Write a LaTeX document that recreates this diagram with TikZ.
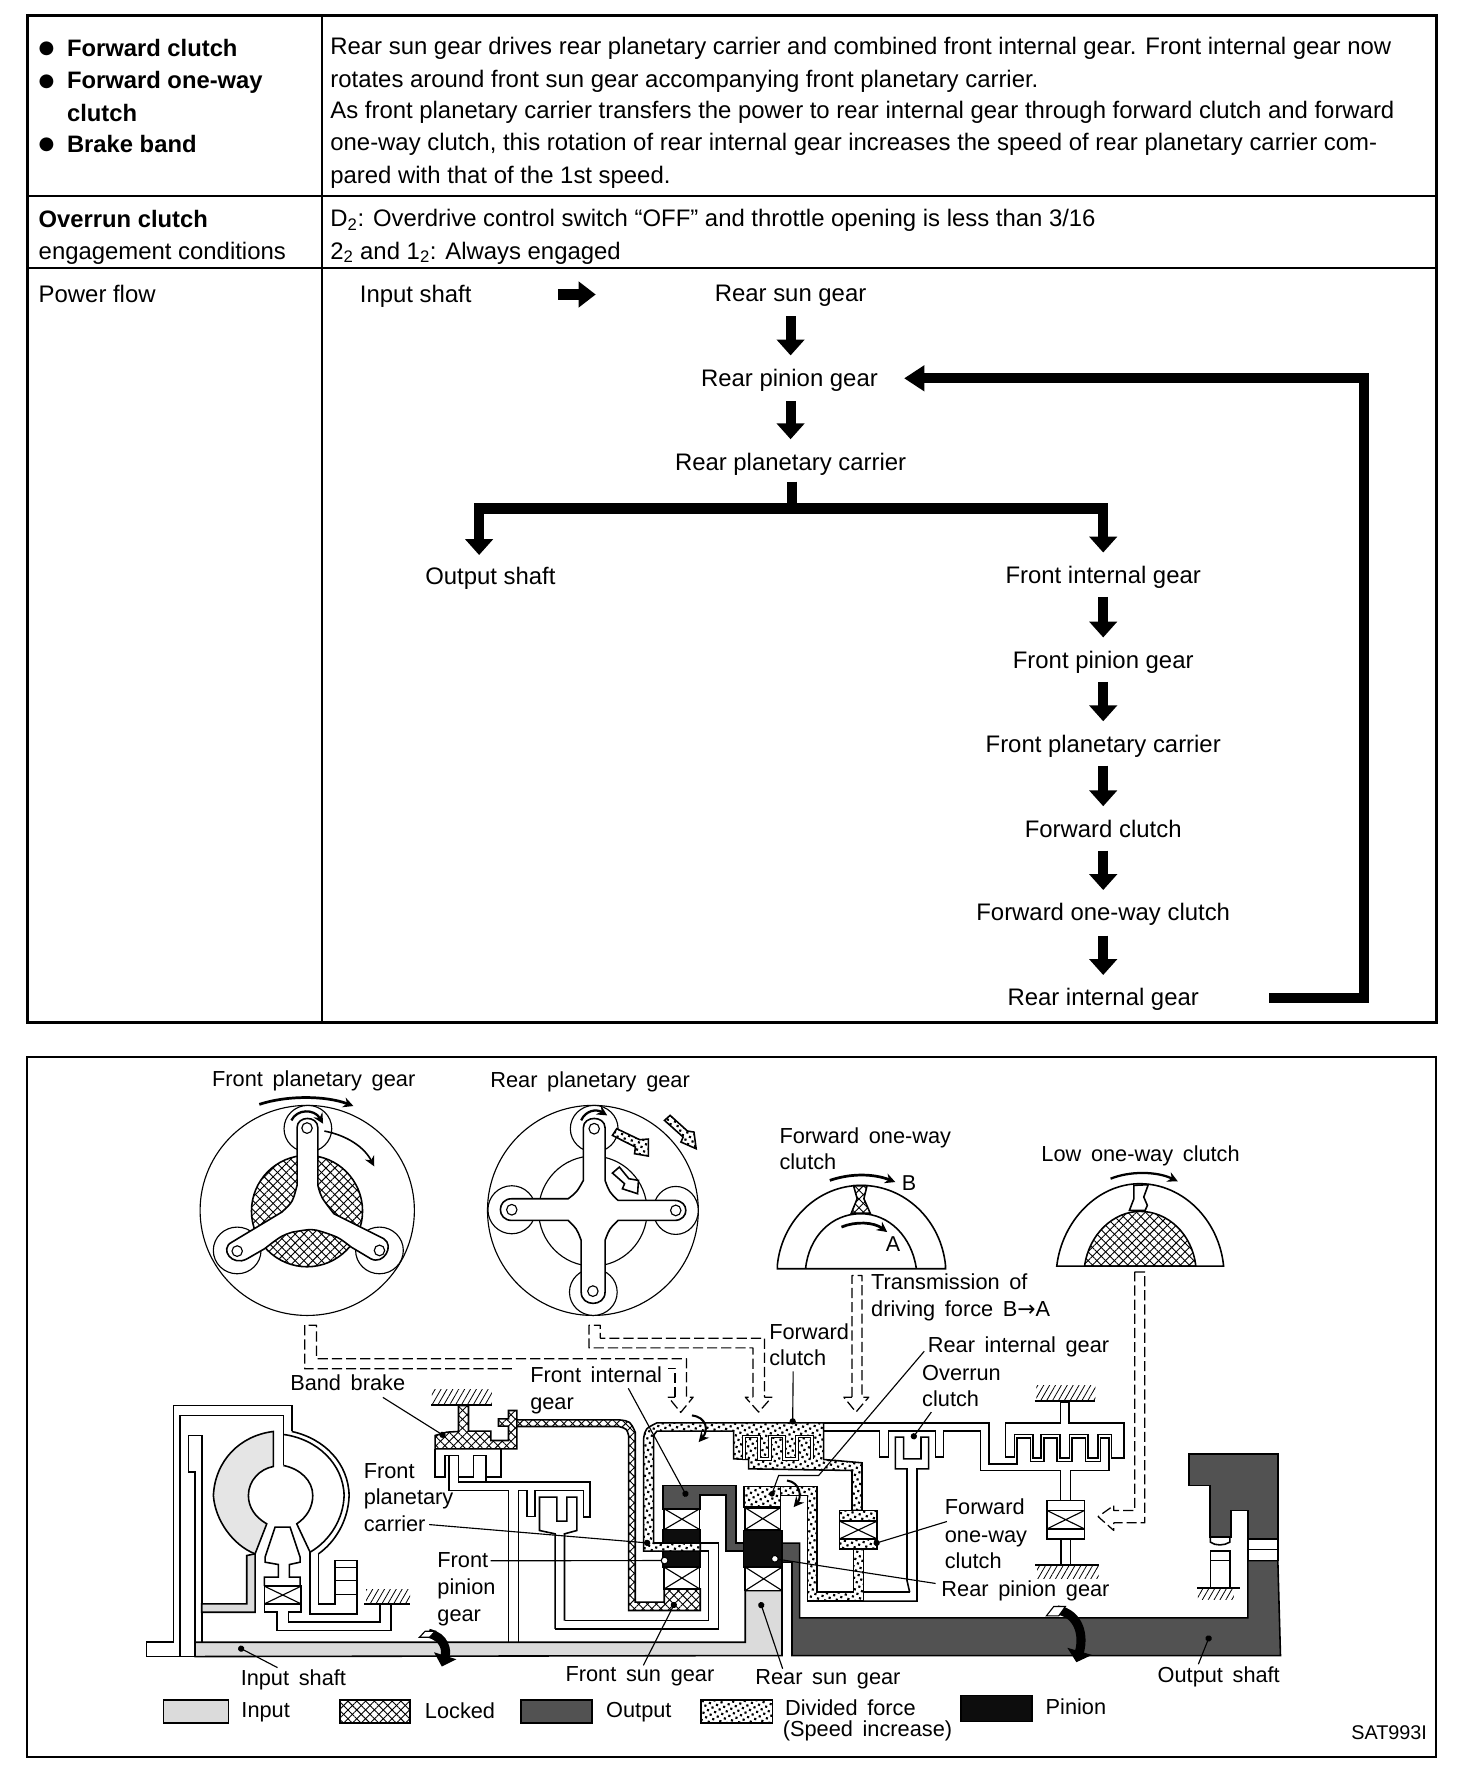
\documentclass[tikz,border=0pt]{standalone}
\usepackage{fontspec}
\setmainfont{Liberation Sans}
\newfontfamily\lblfont[WordSpace=1.6]{Liberation Sans}
\newfontfamily\djfont{DejaVu Sans}
\usetikzlibrary{arrows.meta,patterns.meta}
\tikzset{
 bodytext/.style={font=\fontsize{21.1}{24}\selectfont,anchor=west,inner sep=0pt,text height=19pt,text depth=5pt},
 boldtext/.style={bodytext,font=\fontsize{21}{24}\selectfont\bfseries},
 flowlbl/.style={font=\fontsize{21.1}{24}\selectfont,inner sep=0pt,minimum height=40pt,text height=19pt,text depth=5pt},
 flowarr/.style={line width=9pt,-{Triangle[length=14pt,width=24pt]}},
 lbl/.style={font=\fontsize{19.2}{20}\selectfont\lblfont,inner sep=0pt,anchor=west,text height=18pt,text depth=5pt},
 lblc/.style={lbl,anchor=center},
 mech/.style={line width=1.4pt,line join=miter},
 fine/.style={line width=1pt},
 dashline/.style={line width=1.1pt,dash pattern=on 9pt off 3.5pt},
 lead/.style={line width=1pt},
 leaddot/.style={line width=1pt,-{Circle[length=5.5pt]}},
 leadopen/.style={line width=1pt,-{Circle[open,fill=white,length=7pt]}},
 turnarr/.style={line width=2.4pt,-{Stealth[length=9pt,width=9pt]}},
 inputf/.style={mech,fill=black!14},
 outputf/.style={mech,fill=black!68},
 pinionf/.style={mech,fill=black!95},
 lockedf/.style={mech,fill=white,postaction={pattern={Lines[angle=45,distance=5.5pt,line width=.8pt]}},postaction={pattern={Lines[angle=-45,distance=5.5pt,line width=.8pt]}}},
 dividedf/.style={mech,fill=white,postaction={pattern={Dots[distance=4.6pt,radius=1.35pt,angle=30]}}},
 hatchg/.style={pattern={Lines[angle=60,distance=4.5pt,line width=.7pt]}},
 zone/.style={xshift=114.8pt,yshift=-918.5pt,x=0.383pt,y=-0.2944pt},
 ztwo/.style={xshift=644.7pt,yshift=-953.8pt,x=0.396pt,y=-0.2944pt},
 zthree/.style={xshift=114.8pt,yshift=-1201.1pt,x=0.2944pt,y=-0.2944pt},
 zfour/.style={xshift=494.6pt,yshift=-1201.1pt,x=0.2944pt,y=-0.2944pt},
 zfive/.style={xshift=883.2pt,yshift=-1201.1pt,x=0.2944pt,y=-0.2944pt},
}
\newcommand\mybearing[4]{\draw[mech,fill=white] (#1,#2) rectangle (#3,#4); \draw[fine] (#1,#2)--(#3,#4) (#1,#4)--(#3,#2);}
\begin{document}
\begin{tikzpicture}[x=1pt,y=-1pt]
\useasboundingbox (0,0) rectangle (1300,1568);
\fill[white] (0,0) rectangle (1300,1568);
% ---------- table ----------
\draw[line width=2.6pt] (24,14) rectangle (1268,903);
\draw[line width=1.4pt] (284.5,14) -- (284.5,903);
\draw[line width=1.4pt] (24,173) -- (1268,173);
\draw[line width=1.4pt] (24,236.5) -- (1268,236.5);
\foreach \nm/\yy in {ba/43,bb/72,bc/128}{\node[font=\fontsize{16}{18}\selectfont\djfont,inner sep=0pt] (\nm) at (41,\yy) {●};}
\node[boldtext] (t1) at (59,43) {Forward clutch};
\node[boldtext] (t2) at (59,71.5) {Forward one-way};
\node[boldtext] (t3) at (59,100) {clutch};
\node[boldtext] (t4) at (59,128) {Brake band};
\node[bodytext] (d1) at (291.5,41) {Rear sun gear drives rear planetary carrier and combined front internal gear. Front internal gear now};
\node[bodytext] (d2) at (291.5,70) {rotates around front sun gear accompanying front planetary carrier.};
\node[bodytext] (d3) at (291.5,98) {As front planetary carrier transfers the power to rear internal gear through forward clutch and forward};
\node[bodytext] (d4) at (291.5,126) {one-way clutch, this rotation of rear internal gear increases the speed of rear planetary carrier com-};
\node[bodytext] (d5) at (291.5,155) {pared with that of the 1st speed.};
\node[boldtext] (t5) at (34,194) {Overrun clutch};
\node[bodytext] (t6) at (34,222) {engagement conditions};
\node[bodytext] (d6) at (291.5,193) {D\textsubscript{2}: Overdrive control switch “OFF” and throttle opening is less than 3/16};
\node[bodytext] (d7) at (291.5,222) {2\textsubscript{2} and 1\textsubscript{2}: Always engaged};
\node[bodytext] (t7) at (34,260) {Power flow};
% power flow
\node[flowlbl] (finp) at (367,260) {Input shaft};
\node[flowlbl] (fsun) at (698,259) {Rear sun gear};
\node[flowlbl] (frp) at (697,334) {Rear pinion gear};
\node[flowlbl] (frc) at (698,408) {Rear planetary carrier};
\node[flowlbl] (fout) at (433,509) {Output shaft};
\node[flowlbl] (ffi) at (974,508) {Front internal gear};
\node[flowlbl] (ffp) at (974,583) {Front pinion gear};
\node[flowlbl] (ffc) at (974,657) {Front planetary carrier};
\node[flowlbl] (ffw) at (974,732) {Forward clutch};
\node[flowlbl] (fow) at (974,806) {Forward one-way clutch};
\node[flowlbl] (fri) at (974,881) {Rear internal gear};
\draw[flowarr,-{Triangle[length=15pt,width=22pt]},shorten <=76pt,shorten >=105pt] (finp.east) -- (fsun.west |- finp.east);
\draw[flowarr] (fsun.south -| fsun) -- (frp.north -| fsun);
\draw[flowarr] (frp.south -| fsun) -- (frc.north -| fsun);
\coordinate (fj) at (699,449);
\coordinate (foa) at (423,490);
\draw[line width=9pt] (frc.south -| fj) ++(0,-3) -- (fj);
\draw[flowarr] (fj) -| (foa);
\draw[flowarr] (fj) -| (ffi.north);
\draw[flowarr] (ffi) ++(0,19) -- (ffp.north);
\draw[flowarr] (ffp) ++(0,19) -- (ffc.north);
\draw[flowarr] (ffc) ++(0,19) -- (ffw.north);
\draw[flowarr] (ffw) ++(0,19) -- (fow.north);
\draw[flowarr] (fow) ++(0,20) -- (fri.north);
\coordinate (rc) at (1204,881);
\draw[line width=9pt,-{Triangle[length=18pt,width=22pt]},shorten <=62pt,shorten >=23pt] (fri.east) -- (rc) |- (frp.east);
% ---------- figure frame ----------
\draw[line width=1.4pt] (24,933) rectangle (1268,1551);
% ---------- front planetary gear ----------
\begin{scope}[zone]
\draw[fine] (408.5,510) ellipse [x radius=247,y radius=315];
\draw[lockedf] (408,512) ellipse [x radius=128,y radius=167];
\foreach \px/\py in {410/265,247/630,575/630}{\draw[fine,fill=white] (\px,\py) ellipse [x radius=55,y radius=70];}
\draw[mech,fill=white] (385,262) .. controls (385,225) and (433,225) .. (433,262) -- (433,435) .. controls (440,470) .. (470,520) -- (585,595) .. controls (610,615) and (585,675) .. (555,655) -- (510,620) .. controls (480,590) .. (445,575) .. controls (420,565) .. (375,575) .. controls (350,585) .. (310,625) -- (270,655) .. controls (235,680) and (205,625) .. (235,605) -- (350,515) .. controls (375,485) .. (385,435) -- cycle;
\foreach \px/\py in {408/263,247/632,575/630}{\draw[fine,fill=white] (\px,\py) ellipse [x radius=12,y radius=16];}
\draw[turnarr] (298,192) .. controls (360,165) and (450,165) .. (515,197);
\draw[turnarr,line width=2pt] (372,240) .. controls (385,205) and (425,205) .. (445,250);
\draw[turnarr,line width=1.4pt] (448,272) .. controls (500,285) and (540,320) .. (563,378);
% ---------- rear planetary gear ----------
\draw[fine] (1067,510) ellipse [x radius=243,y radius=315];
\draw[fine] (1067,512) ellipse [x radius=125,y radius=165];
\foreach \px/\py/\rx/\ry in {1070/265/55/70,880/508/55/72,1258/510/52/72,1068/755/55/70}{\draw[fine,fill=white] (\px,\py) ellipse [x radius=\rx,y radius=\ry];}
\draw[mech,fill=white] (1045,262) .. controls (1045,225) and (1095,225) .. (1095,262) -- (1095,420) .. controls (1105,455) .. (1125,480) -- (1255,480) .. controls (1290,480) and (1290,540) .. (1255,540) -- (1125,540) .. controls (1105,565) .. (1095,600) -- (1095,755) .. controls (1095,800) and (1040,800) .. (1040,755) -- (1040,600) .. controls (1030,565) .. (1010,540) -- (880,540) .. controls (845,540) and (845,475) .. (880,475) -- (1010,475) .. controls (1030,455) .. (1045,420) -- cycle;
\foreach \px/\py in {1070/265,880/508,1258/510,1067/752}{\draw[fine,fill=white] (\px,\py) ellipse [x radius=12,y radius=16];}
\draw[turnarr,line width=2pt] (1040,240) .. controls (1050,210) and (1075,205) .. (1100,225);
\draw[dividedf] (1122,265) -- (1175,298) -- (1195,296) -- (1195,347) -- (1163,340) -- (1165,320) -- (1112,285) -- cycle;
\draw[mech,fill=white] (1128,380) -- (1150,415) -- (1172,420) -- (1170,460) -- (1135,445) -- (1140,430) -- (1112,398) -- cycle;
\draw[dividedf] (1245,225) -- (1285,272) -- (1300,275) -- (1305,325) -- (1270,305) -- (1275,290) -- (1232,240) -- cycle;
\end{scope}
% ---------- one-way clutch details ----------
\begin{scope}[ztwo]
\draw[mech] (105,565) -- (105,555) .. controls (115,420) and (195,315) .. (292,315) .. controls (390,315) and (470,420) .. (480,555) -- (480,565) -- cycle;
\draw[mech] (168,565) .. controls (175,470) and (225,400) .. (291,400) .. controls (355,400) and (405,470) .. (415,565);
\draw[lockedf] (275,316) -- (305,316) -- (298,355) -- (312,398) -- (270,398) -- (283,355) -- cycle;
\draw[turnarr] (222,300) .. controls (270,278) and (320,280) .. (368,305);
\draw[turnarr] (248,440) .. controls (280,422) and (320,425) .. (350,455);
\draw[lockedf] (790,557) .. controls (800,460) and (855,393) .. (914,393) .. controls (975,393) and (1030,460) .. (1038,557) -- cycle;
\draw[mech] (728,557) .. controls (740,420) and (820,310) .. (913,310) .. controls (1010,310) and (1090,420) .. (1100,557) -- cycle;
\draw[mech,fill=white] (900,315) -- (932,313) -- (922,350) -- (930,375) -- (925,390) -- (890,390) -- (900,355) -- cycle;
\draw[turnarr,line width=2pt] (848,295) .. controls (890,272) and (950,272) .. (998,303);
\end{scope}
\node[lbl,font=\fontsize{19}{20}\selectfont] (lB) at (796,1045) {B};
\node[lbl,font=\fontsize{19}{20}\selectfont] (lA) at (782,1098) {A};
% ---------- dashed power paths ----------
\draw[dashline,line join=round] (596,1233.5) -- (596,1208) -- (590,1208);
\draw[dashline,line join=round] (452,1208.5) -- (269,1208.5) -- (269,1170) -- (279.5,1170) -- (279.5,1199.5) -- (606,1199.5) -- (606,1233.5) -- (612,1233.5) -- (601,1247) -- (590,1233.5) -- (596,1233.5);
\draw[dashline,line join=round] (664.7,1233.5) -- (664.7,1190) -- (520,1190) -- (520,1170) -- (530,1170) -- (530,1181.4) -- (675,1181.4) -- (675,1233.5) -- (681.5,1233.5) -- (669.8,1246.7) -- (658,1233.5) -- cycle;
\draw[dashline,line join=round] (752.2,1233.5) -- (752.2,1126) -- (761,1126) -- (761,1233.5) -- (767,1233.5) -- (755.7,1246.7) -- (745,1233.5) -- cycle;
\draw[dashline,line join=round] (1001.8,1123) -- (1010.7,1123) -- (1010.7,1344.5) -- (983.3,1344.5) -- (983.3,1351.2) -- (969.5,1339) -- (983.3,1329.2) -- (983.3,1333.6) -- (1001.8,1333.6) -- cycle;
% ---------- mechanism, left part ----------
\begin{scope}[zthree]
\draw[mech,fill=white] (50,888) -- (50,845) -- (130,845) -- (130,135) -- (485,135) -- (485,213);
\draw[mech] (150,888) -- (150,165) -- (460,165) -- (460,315);
\draw[mech] (50,888) -- (200,888);
% turbine
\draw[inputf,fill=black!10] (430,213) .. controls (330,225) and (255,300) .. (250,405) .. controls (255,480) and (310,555) .. (375,580) -- (410,490) .. controls (375,470) and (355,440) .. (355,405) .. controls (355,360) and (390,325) .. (430,318) -- cycle;
\draw[mech] (460,222) .. controls (560,235) and (640,310) .. (642,405) .. controls (640,475) and (600,540) .. (540,575);
\draw[mech] (485,213) .. controls (585,235) and (655,310) .. (657,405) .. controls (655,480) and (615,545) .. (565,580);
\draw[mech] (540,575) -- (500,490) .. controls (530,470) and (548,440) .. (548,405) .. controls (548,360) and (510,325) .. (460,315);
% turbine shaft
\draw[mech,fill=white] (195,888) -- (195,335) -- (175,335) -- (175,225) -- (215,225) -- (215,730) -- (350,730) -- (350,585);
\draw[inputf] (215,730) -- (350,730) -- (350,585) -- (375,580) -- (375,755) -- (215,755) -- cycle;
\draw[mech] (215,755) -- (215,845);
% stator
\draw[mech] (405,590) -- (435,500) -- (480,500) -- (510,590) -- (510,605) -- (478,612) -- (478,650) -- (510,650) -- (510,677);
\draw[mech] (405,590) -- (405,605) -- (445,612) -- (445,650) -- (403,650) -- (403,677);
\mybearing{403}{677}{513}{730}
\draw[mech] (403,730) -- (403,755) -- (440,755) -- (440,810) -- (782,810) -- (782,730);
\draw[mech] (513,730) -- (513,755) -- (475,755) -- (475,785) -- (750,785) -- (750,730);
\draw[mech] (703,730) -- (840,730);
\path[hatchg] (708,688) rectangle (840,728);
% pump hub
\draw[mech] (540,575) -- (540,760) -- (680,760) -- (680,600) -- (615,600) -- (615,730) -- (565,730) -- (565,580);
\draw[fine] (615,620) -- (680,620) (615,660) -- (680,660) (615,702) -- (680,702);
% front clutches
\draw[mech] (1135,845) -- (1135,390) -- (957,390) -- (957,285);
\draw[mech] (915,265) -- (915,350) -- (945,350) -- (945,285) -- (985,285) -- (985,350) -- (1030,350) -- (1030,285) -- (1068,285) -- (1068,350) -- (1112,350) -- (1112,265);
\draw[mech] (985,350) -- (985,365) -- (1380,365) -- (1380,470) -- (1360,470) -- (1360,390) -- (1215,390) -- (1215,468) -- (1190,468) -- (1190,390) -- (1165,390) -- (1165,845);
\draw[mech] (1068,350) -- (1068,365);
\draw[mech] (1275,805) -- (1275,520) -- (1228,510) -- (1228,410) -- (1280,410) -- (1280,482) -- (1310,482) -- (1310,410) -- (1340,410) -- (1340,510) -- (1303,520) -- (1303,780);
% band drum
\draw[lockedf] (915,265) -- (915,225) -- (950,215) -- (985,213) -- (985,135) -- (1015,135) -- (1015,212) -- (1082,212) -- (1082,240) -- (1135,240) -- (1135,197) -- (1105,197) -- (1105,175) -- (1135,175) -- (1135,150) -- (1160,150) -- (1160,265) -- cycle;
\draw[mech] (903,133) -- (1085,133);
\path[hatchg] (905,88) rectangle (1085,131);
\end{scope}
% ---------- mechanism, centre ----------
\begin{scope}[zfour]
% input shaft and rear sun gear
\draw[inputf] (-1095,845) -- (555,845) -- (555,690) -- (665,690) -- (665,885) -- (-1095,888) -- cycle;
% carrier frame
\draw[mech] (-15,805) -- (475,805) -- (475,548) -- (270,548);
\draw[mech] (13,780) -- (445,780) -- (445,572) -- (270,572);
% locked tube and front sun gear
\draw[lockedf] (-130,178) -- (175,178) .. controls (210,182) .. (225,215) -- (225,725) -- (312,725) -- (312,685) -- (420,685) -- (420,750) -- (205,750) -- (205,225) .. controls (200,205) .. (175,198) -- (-130,198) -- cycle;
% divided tube, front
\draw[dividedf] (250,572) -- (250,235) .. controls (255,205) .. (290,187) -- (790,187) -- (790,297) -- (905,307) -- (905,450) -- (875,450) -- (875,330) -- (565,325) -- (565,297) -- (520,295) -- (520,212) -- (290,212) .. controls (282,220) .. (280,235) -- (280,548) -- (420,548) -- (420,572) -- cycle;
\draw[mech,line width=.9pt,double=white,double distance=1.6pt] (552,297) -- (552,228) -- (595,228) -- (595,295) -- (630,295) -- (630,228) -- (672,228) -- (672,295) -- (710,295) -- (710,228) -- (755,228) -- (755,297);
% front stack
\draw[outputf] (308,375) -- (527,375) -- (527,548) -- (552,548) -- (552,572) -- (497,572) -- (497,403) -- (420,403) -- (420,445) -- (308,445) -- cycle;
\mybearing{312}{445}{418}{507}
\draw[pinionf] (308,507) rectangle (420,546);
\draw[pinionf] (308,573) rectangle (420,620);
\mybearing{312}{620}{418}{685}
% rear stack
\draw[dividedf] (552,378) rectangle (660,440);
\draw[dividedf] (660,378) -- (770,378) -- (770,695) -- (880,695) -- (880,565) -- (910,565) -- (910,722) -- (742,722) -- (742,405) -- (660,405) -- cycle;
\mybearing{555}{442}{660}{507}
\draw[pinionf] (550,510) rectangle (665,620);
\mybearing{555}{620}{665}{690}
% one-way clutch
\draw[dividedf] (838,450) rectangle (950,565);
\mybearing{838}{482}{950}{535}
% output
\draw[outputf] (665,548) -- (718,548) -- (718,772) -- (2062,772) -- (2062,600) -- (2152,600) -- (2160,885) -- (695,885) -- (695,605) -- (665,605) -- cycle;
% overrun clutch
\draw[mech] (790,187) -- (1285,187) -- (1285,310) -- (1335,310);
\draw[mech] (790,212) -- (958,212) -- (958,290) -- (985,290) -- (985,212) -- (1125,212) -- (1125,290) -- (1150,290) -- (1150,212) -- (1260,212) -- (1260,330) -- (1500,330);
\draw[mech] (1048,695) -- (1040,660) -- (1040,325) -- (1005,325) -- (1005,230) -- (1030,230) -- (1030,295) -- (1082,295) -- (1082,230) -- (1105,230) -- (1105,325) -- (1070,325) -- (1070,722) -- (910,722);
\draw[mech] (1048,695) -- (910,695);
% turn arrows
\draw[turnarr,line width=1.8pt] (395,165) .. controls (440,170) and (445,210) .. (415,245);
\draw[turnarr,line width=1.8pt] (680,360) .. controls (720,365) and (725,410) .. (700,440);
% leader ends
\coordinate (eFI) at (380,408);
\coordinate (eFC) at (697,192);
\coordinate (eRB) at (775,345);
\coordinate (eRC) at (655,345);
\coordinate (eRD) at (635,400);
\coordinate (eOR) at (1055,235);
\coordinate (eOW) at (940,550);
\coordinate (eRP) at (632,593);
\coordinate (eFCa) at (270,548);
\coordinate (eFP) at (325,600);
\coordinate (eFS) at (345,725);
\coordinate (eRS) at (600,725);
\end{scope}
% ---------- mechanism, right ----------
\begin{scope}[zfive]
\draw[mech,fill=white] (15,187) -- (15,290) -- (42,290) -- (42,222) -- (98,222) -- (98,292) -- (122,292) -- (122,222) -- (178,222) -- (178,292) -- (207,292) -- (207,222) -- (263,222) -- (263,292) -- (292,292) -- (292,222) -- (333,222) -- (333,292) -- (370,292) -- (370,187) -- (205,187) -- (205,125) -- (180,125) -- (180,187) -- cycle;
\draw[mech] (15,310) -- (50,310) -- (50,232) -- (90,232) -- (90,303) -- (130,303) -- (130,232) -- (170,232) -- (170,303) -- (215,303) -- (215,232) -- (255,232) -- (255,303) -- (300,303) -- (300,232) -- (325,232) -- (325,330) -- (210,330) -- (210,420);
\draw[mech] (180,330) -- (180,420);
\draw[mech,fill=white] (140,420) rectangle (252,535);
\mybearing{140}{450}{252}{505}
\draw[mech] (182,535) -- (182,612) (210,535) -- (210,612);
\draw[mech] (103,122) -- (285,122);
\path[hatchg] (108,76) rectangle (285,120);
\draw[mech] (105,614) -- (295,614);
\path[hatchg] (110,616) rectangle (295,655);
% output housing
\draw[outputf] (565,280) -- (832,280) -- (832,535) -- (742,535) -- (742,450) -- (692,450) -- (692,530) -- (628,530) -- (628,375) -- (565,375) -- cycle;
\draw[mech,fill=white] (742,535) rectangle (832,600);
\draw[fine] (742,568) -- (832,568);
\draw[mech,fill=white] (630,530) -- (688,530) -- (688,545) .. controls (670,556) and (645,556) .. (630,545) -- cycle;
\draw[mech,fill=white] (630,680) -- (630,572) -- (688,572) -- (688,680);
\draw[fine] (630,600) -- (688,600);
\draw[mech] (590,682) -- (720,682);
\path[hatchg] (592,684) rectangle (700,716);
% output turn arrow
\draw[white,line width=4pt] (170,748) .. controls (240,760) and (250,830) .. (228,905);
\draw[line width=8pt,-{Triangle[length=10pt,width=22pt]}] (170,748) .. controls (240,760) and (250,830) .. (228,905);
\draw[fine,fill=white] (138,766) -- (160,738) -- (195,738) -- (175,766) -- cycle;
\coordinate (eOS) at (628,825);
\end{scope}
% input turn arrow, band drum leader ends
\begin{scope}[zthree]
\draw[white,line width=4pt] (895,818) .. controls (945,830) and (950,870) .. (935,918);
\draw[line width=8pt,-{Triangle[length=10pt,width=20pt]}] (895,818) .. controls (945,830) and (950,870) .. (935,918);
\draw[fine,fill=white] (868,830) -- (885,812) -- (915,812) -- (898,830) -- cycle;
\coordinate (eBB) at (945,228);
\coordinate (eIS) at (325,860);
\end{scope}
% ---------- labels ----------
\node[lblc] (lFPG) at (277,953) {Front planetary gear};
\node[lblc] (lRPG) at (521,954) {Rear planetary gear};
\node[lbl] (lFO1) at (688,1003) {Forward one-way};
\node[lbl] (lFO2) at (688,1026) {clutch};
\node[lblc] (lLOW) at (1007,1019) {Low one-way clutch};
\node[lbl] (lTR1) at (769,1132) {Transmission of};
\node[lbl] (lTR2) at (769,1156) {driving force B{\djfont →}A};
\node[lbl] (lFC1) at (679,1176) {Forward};
\node[lbl] (lFC2) at (679,1199) {clutch};
\node[lbl] (lRI) at (819,1188) {Rear internal gear};
\node[lbl] (lOV1) at (814,1212) {Overrun};
\node[lbl] (lOV2) at (814,1235) {clutch};
\node[lbl] (lFI1) at (468,1214) {Front internal};
\node[lbl] (lFI2) at (468,1238) {gear};
\node[lblc] (lBB) at (307,1221) {Band brake};
\node[lbl] (lPC1) at (321,1299) {Front};
\node[lbl] (lPC2) at (321,1322) {planetary};
\node[lbl] (lPC3) at (321,1346) {carrier};
\node[lbl] (lFP1) at (386,1377) {Front};
\node[lbl] (lFP2) at (386,1401) {pinion};
\node[lbl] (lFP3) at (386,1425) {gear};
\node[lbl] (lOW1) at (834,1331) {Forward};
\node[lbl] (lOW2) at (834,1355) {one-way};
\node[lbl] (lOW3) at (834,1378) {clutch};
\node[lbl] (lRP) at (831,1403) {Rear pinion gear};
\node[lblc] (lIS) at (259,1482) {Input shaft};
\node[lblc] (lFS) at (565,1478) {Front sun gear};
\node[lblc] (lRS) at (731,1481) {Rear sun gear};
\node[lblc] (lOS) at (1076,1479) {Output shaft};
\node[lbl] (lgI) at (213,1510) {Input};
\node[lbl] (lgL) at (375,1511) {Locked};
\node[lbl] (lgO) at (535,1510) {Output};
\node[lbl] (lgD) at (693,1508) {Divided force};
\node[lbl] (lgS) at (691,1527) {(Speed increase)};
\node[lbl] (lgP) at (923,1507) {Pinion};
\node[lbl,anchor=east,font=\fontsize{17.5}{20}\selectfont] (lSAT) at (1260,1529) {SAT993I};
% legend swatches
\draw[inputf] (144.2,1500.8) rectangle (201.6,1521.4);
\draw[lockedf] (300,1500.8) rectangle (362,1521.4);
\draw[outputf] (459.8,1500.8) rectangle (522.5,1521.4);
\draw[dividedf] (618.8,1500.8) rectangle (682,1521.4);
\draw[pinionf] (848.4,1497) rectangle (911,1519.7);
% ---------- leaders ----------
\draw[lead] (lRI.west) ++(-3,5) -- (eRB) -- (eRC) -- (eRD);
\fill (eRD) circle (2.5pt);
\draw[leaddot] (lFI1.south east) ++(-30,0) -- (eFI);
\draw[leaddot] (lFC2.south) ++(-4,0) -- (eFC);
\draw[leaddot] (lOV2.south) ++(-17,0) -- (eOR);
\draw[leaddot] (lOW2.north west) ++(2,0) -- (eOW);
\draw[leadopen] (lRP.west) ++(-5,-5) -- (eRP);
\draw[leaddot] (lPC3.east) ++(3,0) -- (eFCa);
\draw[leadopen] (lFP1.east) ++(2,1) -- (eFP);
\draw[leaddot] (lFS.north) ++(3,4) -- (eFS);
\draw[leaddot] (lRS.north) ++(-40,4) -- (eRS);
\draw[leaddot] (lBB.south) ++(31,1) -- (eBB);
\draw[leaddot] (lIS.north) ++(-14,2) -- (eIS);
\draw[leaddot] (lOS.north) ++(-18,2) -- (eOS);
\end{tikzpicture}
\end{document}
